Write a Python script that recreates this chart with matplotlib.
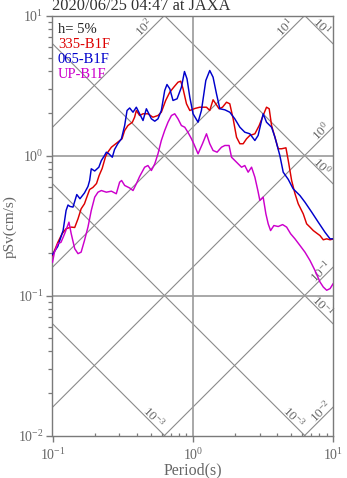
import numpy as np
import matplotlib
matplotlib.use("Agg")
import matplotlib.pyplot as plt
from matplotlib.ticker import LogLocator, NullFormatter, FixedLocator

plt.rcParams['font.family'] = ['Liberation Serif', 'DejaVu Serif']
plt.rcParams['mathtext.fontset'] = 'custom'
plt.rcParams['mathtext.rm'] = 'Liberation Serif'
plt.rcParams['mathtext.it'] = 'Liberation Serif:italic'
plt.rcParams['mathtext.bf'] = 'Liberation Serif:bold'
plt.rcParams['mathtext.default'] = 'regular'

# ---------------- data ----------------
title = "2020/06/25 04:47 at JAXA"
damping_text = "h= 5%"
series_names = ["335-B1F", "065-B1F", "UP-B1F"]
series_colors = ["#dd0000", "#0000cc", "#cc00cc"]

period_335 = [0.1, 0.109, 0.117, 0.125, 0.136, 0.144, 0.152, 0.160, 0.169, 0.174,
              0.184, 0.194, 0.206, 0.215, 0.226, 0.239, 0.248, 0.263, 0.292, 0.313,
              0.327, 0.345, 0.371, 0.385, 0.396, 0.418, 0.442, 0.479, 0.520, 0.565,
              0.597, 0.641, 0.686, 0.732, 0.785, 0.821, 0.852, 0.902, 0.953, 1.034,
              1.122, 1.253, 1.322, 1.396, 1.459, 1.541, 1.630, 1.741, 1.837, 1.941,
              2.052, 2.168, 2.288, 2.418, 2.553, 2.773, 2.976, 3.177, 3.357, 3.508,
              3.648, 3.855, 4.068, 4.301, 4.617, 4.797, 5.070, 5.354, 5.650, 6.135,
              6.488, 6.850, 7.233, 7.648, 8.074, 8.524, 9.016, 9.528, 10.0]
psv_335 = [0.193, 0.239, 0.276, 0.300, 0.308, 0.306, 0.353, 0.416, 0.452, 0.491,
           0.572, 0.591, 0.631, 0.720, 0.808, 0.984, 1.056, 1.146, 1.245, 1.316,
           1.509, 1.637, 1.729, 1.877, 2.096, 1.931, 1.986, 1.986, 1.877, 1.931,
           2.038, 2.472, 2.833, 3.074, 3.339, 3.394, 3.010, 2.341, 2.096, 2.166,
           2.213, 2.213, 2.096, 2.500, 2.341, 2.157, 2.213, 2.402, 2.341, 1.828,
           1.351, 1.213, 1.213, 1.316, 1.390, 1.429, 1.637, 1.931, 2.213, 2.157,
           1.637, 1.351, 1.117, 1.117, 1.135, 0.921, 0.663, 0.535, 0.452, 0.383,
           0.325, 0.308, 0.291, 0.279, 0.268, 0.250, 0.254, 0.250, 0.253]

period_065 = [0.1, 0.109, 0.119, 0.125, 0.129, 0.133, 0.140, 0.149, 0.157, 0.169,
              0.179, 0.184, 0.189, 0.200, 0.214, 0.223, 0.235, 0.242, 0.251, 0.267,
              0.277, 0.292, 0.310, 0.327, 0.340, 0.355, 0.375, 0.396, 0.418, 0.442,
              0.467, 0.507, 0.536, 0.565, 0.597, 0.631, 0.655, 0.686, 0.723, 0.773,
              0.830, 0.873, 0.910, 0.953, 1.005, 1.091, 1.153, 1.239, 1.322, 1.396,
              1.476, 1.560, 1.694, 1.837, 1.995, 2.168, 2.350, 2.553, 2.773, 2.924,
              3.177, 3.357, 3.648, 3.855, 4.178, 4.416, 4.797, 5.200, 5.808, 6.310,
              7.047, 7.852, 8.770, 9.528, 10.0]
psv_065 = [0.196, 0.224, 0.291, 0.405, 0.443, 0.433, 0.428, 0.526, 0.491, 0.540,
           0.601, 0.663, 0.804, 0.775, 0.825, 0.921, 1.000, 1.056, 1.033, 0.972,
           1.104, 1.213, 1.316, 1.637, 2.096, 2.185, 2.038, 2.213, 1.986, 1.778,
           2.157, 1.828, 1.758, 1.828, 2.096, 2.911, 3.214, 2.994, 2.472, 2.541,
           3.074, 3.981, 3.530, 2.608, 1.986, 1.729, 2.096, 3.433, 4.047, 3.625,
           2.761, 2.157, 2.120, 2.038, 1.828, 1.592, 1.467, 1.429, 1.280, 1.390,
           1.986, 1.729, 1.592, 1.351, 1.000, 0.760, 0.675, 0.578, 0.518, 0.464,
           0.394, 0.334, 0.283, 0.254, 0.254]

period_up = [0.1, 0.1033, 0.109, 0.115, 0.122, 0.131, 0.136, 0.144, 0.152, 0.160,
             0.169, 0.179, 0.189, 0.200, 0.211, 0.223, 0.242, 0.263, 0.285, 0.301,
             0.311, 0.327, 0.355, 0.375, 0.396, 0.418, 0.454, 0.479, 0.507, 0.536,
             0.565, 0.597, 0.631, 0.666, 0.705, 0.744, 0.785, 0.830, 0.877, 0.926,
             0.979, 1.017, 1.091, 1.173, 1.253, 1.322, 1.396, 1.491, 1.603, 1.694,
             1.816, 1.890, 1.995, 2.107, 2.228, 2.350, 2.483, 2.626, 2.773, 2.912,
             3.010, 3.177, 3.322, 3.451, 3.589, 3.789, 4.068, 4.372, 4.670, 4.988,
             5.354, 5.808, 6.310, 6.850, 7.437, 8.074, 8.524, 9.016, 9.528, 10.0]
psv_up = [0.173, 0.204, 0.234, 0.240, 0.276, 0.334, 0.276, 0.216, 0.199, 0.204,
          0.247, 0.308, 0.405, 0.504, 0.547, 0.562, 0.547, 0.556, 0.533, 0.645,
          0.663, 0.611, 0.586, 0.562, 0.628, 0.708, 0.825, 0.848, 0.781, 0.872,
          1.028, 1.280, 1.509, 1.729, 1.931, 1.986, 1.828, 1.637, 1.592, 1.459,
          1.316, 1.213, 1.028, 1.213, 1.429, 1.213, 1.086, 1.056, 1.146, 1.179,
          1.179, 0.972, 0.921, 0.872, 0.825, 0.848, 0.760, 0.825, 0.700, 0.562,
          0.477, 0.504, 0.383, 0.325, 0.291, 0.316, 0.311, 0.321, 0.308, 0.276,
          0.254, 0.228, 0.204, 0.178, 0.151, 0.125, 0.115, 0.109, 0.112, 0.121]

# tripartite reference lines
accel_levels = [100, 10, 1, 0.1, 0.01]          # gal
accel_labels = ["$10^{2}$", "$10^{1}$", "$10^{0}$", "$10^{-1}$", "$10^{-2}$"]
disp_levels = [10, 1, 0.1, 0.01, 0.001]         # cm
disp_labels = ["$10^{1}$", "$10^{0}$", "$10^{-1}$", "$10^{-3}$", "$10^{-3}$"]

xmin, xmax = 0.1, 10.0
ymin, ymax = 0.01, 10.0

# ---------------- figure ----------------
W, H = 347, 478
fig = plt.figure(figsize=(W / 100, H / 100), dpi=100)
L, R, T_, B = 52.5, 333.0, 15.5, 435.5
ax = fig.add_axes([L / W, 1 - B / H, (R - L) / W, (B - T_) / H])
ax.set_xscale('log')
ax.set_yscale('log')
ax.set_xlim(xmin, xmax)
ax.set_ylim(ymin, ymax)

line_gray = "#8a8a8a"
text_gray = "#666666"
tp = np.logspace(-1, 1, 200)
two_pi = 2 * np.pi
for a in accel_levels:
    ax.plot(tp, a * tp / two_pi, color=line_gray, lw=0.8, zorder=1)
for d in disp_levels:
    ax.plot(tp, two_pi * d / tp, color=line_gray, lw=0.8, zorder=1)

# grid lines at decades
ax.axvline(1.0, color="#9a9a9a", lw=1.2, zorder=1)
for g in [1.0, 0.1]:
    ax.axhline(g, color="#9a9a9a", lw=1.2, zorder=1)

px_per_dec = (R - L) / 2.0

# labels on acceleration lines (rising)
for a, lab in zip(accel_levels, accel_labels):
    t_end = min(xmax, two_pi * ymax / a)
    back = 20 if t_end < xmax else 12
    t_lab = t_end * 10 ** (-back / px_per_dec)
    ax.annotate(lab, xy=(t_lab, a * t_lab / two_pi), xytext=(0, 8 * 0.72),
                textcoords='offset points', rotation=45, ha='center', va='center',
                rotation_mode='anchor', fontsize=9.5, color=text_gray, zorder=2)

# labels on displacement lines (falling)
for d, lab in zip(disp_levels, disp_labels):
    t_end = min(xmax, two_pi * d / ymin)
    back = 11
    t_lab = t_end * 10 ** (-back / px_per_dec)
    ax.annotate(lab, xy=(t_lab, two_pi * d / t_lab), xytext=(0, 7 * 0.72),
                textcoords='offset points', rotation=-45, ha='center', va='center',
                rotation_mode='anchor', fontsize=9.5, color=text_gray, zorder=2)

# spectra
ax.plot(period_335, psv_335, color=series_colors[0], lw=1.05, zorder=3)
ax.plot(period_065, psv_065, color=series_colors[1], lw=1.05, zorder=4)
ax.plot(period_up, psv_up, color=series_colors[2], lw=1.05, zorder=5)

# legend-like texts
ax.text(0.0196, 0.9667, damping_text, transform=ax.transAxes, fontsize=10.5,
        color="#222222", ha='left', va='center')
for i, (nm, c) in enumerate(zip(series_names, series_colors)):
    ax.text(0.0196, 0.9310 - i * 0.0357, nm, transform=ax.transAxes, fontsize=10.5,
            color=c, ha='left', va='center')

# axes styling
for s in ax.spines.values():
    s.set_color("#7a7a7a")
    s.set_linewidth(1.0)
ax.xaxis.set_major_locator(FixedLocator([0.1, 1, 10]))
ax.yaxis.set_major_locator(FixedLocator([0.01, 0.1, 1, 10]))
ax.xaxis.set_minor_locator(LogLocator(base=10, subs=np.arange(2, 10), numticks=10))
ax.yaxis.set_minor_locator(LogLocator(base=10, subs=np.arange(2, 10), numticks=10))
ax.xaxis.set_minor_formatter(NullFormatter())
ax.yaxis.set_minor_formatter(NullFormatter())
ax.tick_params(which='major', direction='out', length=4, width=1.0, color="#7a7a7a",
               labelcolor=text_gray, labelsize=10)
ax.tick_params(which='minor', direction='out', length=3, width=0.9, color="#7a7a7a")
ax.tick_params(axis='x', which='minor', direction='in', length=2.5)
ax.tick_params(axis='x', which='major', pad=4)
ax.tick_params(axis='y', which='major', pad=2.5)

fig.text(193 / W, 1 - 470 / H, "Period(s)", fontsize=11.5, color=text_gray,
         ha='center', va='center')
fig.text(10 / W, 1 - 227 / H, "pSv(cm/s)", fontsize=11, color=text_gray,
         ha='center', va='center', rotation=90)

fig.text(L / W, 1 - 10.5 / H, title, fontsize=11.8, color="#333333",
         ha='left', va='baseline')

fig.savefig("out.png", dpi=100)
